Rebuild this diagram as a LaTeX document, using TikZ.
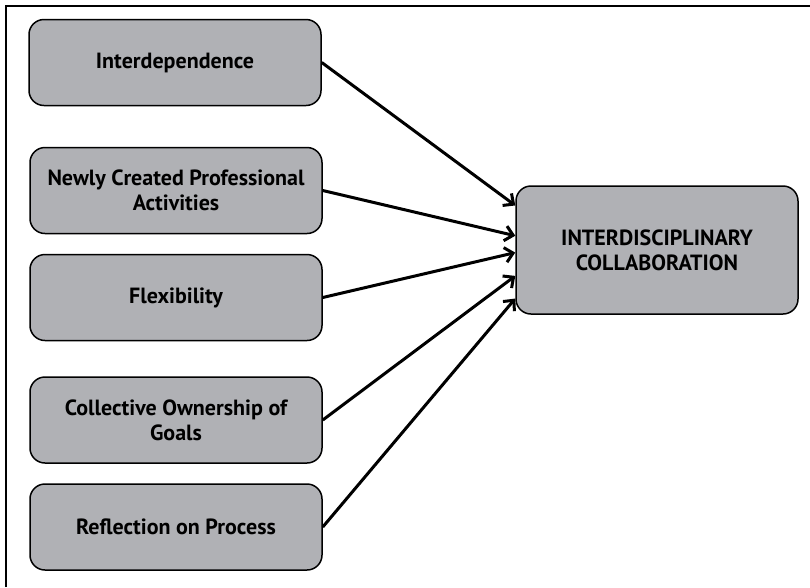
\documentclass[tikz,border=0pt]{standalone}
\usepackage{fontspec}
\setmainfont{PT Sans}
\usetikzlibrary{calc,arrows.meta}

\begin{document}
\begin{tikzpicture}[x=1pt, y=-1pt,
		factorbox/.style={draw, line width=1.5pt, rounded corners=15pt,
		fill={rgb,255:red,176;green,177;blue,181}, minimum width=292pt,
		minimum height=86pt, align=center, font=\bfseries\fontsize{22}{25}\selectfont},
		outcomebox/.style={factorbox, minimum width=282pt, minimum height=128pt},
		link/.style={-{Straight Barb[length=8pt,width=15pt]}, line width=3pt}
		]
		\useasboundingbox (0,0) rectangle (810,587);
		\draw[line width=2.2pt] (6,587) -- (6,6) -- (810,6);

		\node[factorbox](F1) at (175,62.5){Interdependence};
		\node[factorbox](F2) at (176,190.5){Newly Created Professional\\Activities};
		\node[factorbox](F3) at (176,297.5){Flexibility};
		\node[factorbox](F4) at (176,420){Collective Ownership of\\Goals};
		\node[factorbox](F5) at (176,527){Reflection on Process};
		\node[outcomebox](C) at (657,250){INTERDISCIPLINARY\\COLLABORATION};

		\draw[link] (F1.east) -- ($(C.north west)!0.156!(C.south west)$);
		\draw[link] (F2.east) -- ($(C.north west)!0.39!(C.south west)$);
		\draw[link] (F3.east) -- ($(C.north west)!0.52!(C.south west)$);
		\draw[link] (F4.east) -- ($(C.north west)!0.70!(C.south west)$);
		\draw[link] (F5.east) -- ($(C.north west)!0.875!(C.south west)$);
	\end{tikzpicture}
\end{document}
